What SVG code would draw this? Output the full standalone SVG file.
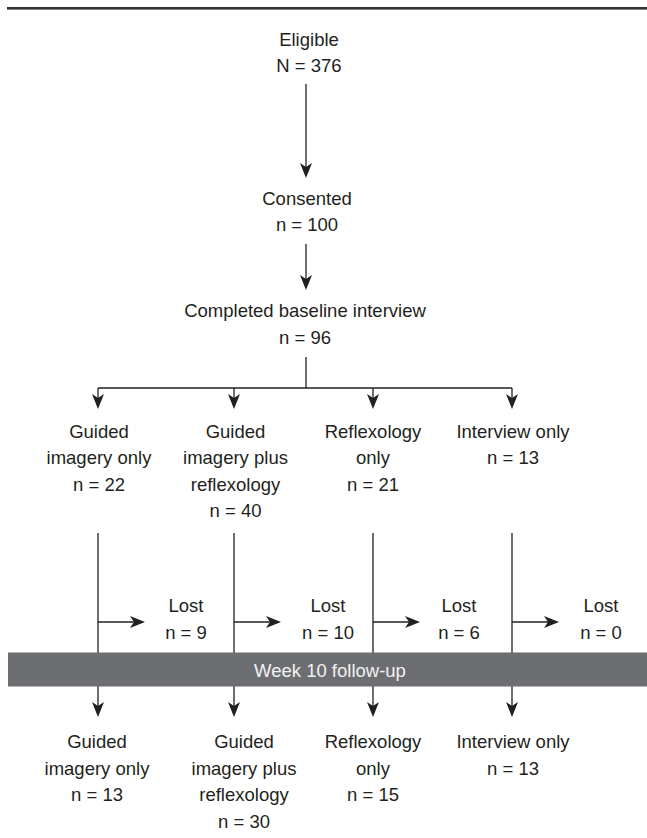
<svg xmlns="http://www.w3.org/2000/svg" width="647" height="838" viewBox="0 0 647 838">
<style>
text{font-family:"Liberation Sans",Arial,sans-serif;font-size:18.5px;fill:#231f20;text-anchor:middle}
.ln{stroke:#231f20;stroke-width:1.3;fill:none}
.bartext{fill:#f2f2f2}
</style>
<defs>
<marker id="ah" viewBox="0 -7 16 14" refX="4" refY="0" markerWidth="16" markerHeight="14" markerUnits="userSpaceOnUse" orient="auto">
<path d="M0,-6 L15,0 L0,6 L4,0 Z" fill="#231f20"/>
</marker>
</defs>
<rect id="toprule" x="7" y="7" width="640" height="2.6" fill="#333"/>
<g id="connectors">
<line class="ln" x1="306" y1="84" x2="306" y2="167" marker-end="url(#ah)"/>
<line class="ln" x1="306" y1="244" x2="306" y2="279" marker-end="url(#ah)"/>
<line class="ln" x1="306" y1="357" x2="306" y2="388"/>
<line class="ln" x1="98" y1="388" x2="512" y2="388"/>
<line class="ln" x1="98" y1="388" x2="98" y2="398" marker-end="url(#ah)"/>
<line class="ln" x1="234" y1="388" x2="234" y2="398" marker-end="url(#ah)"/>
<line class="ln" x1="373" y1="388" x2="373" y2="398" marker-end="url(#ah)"/>
<line class="ln" x1="512" y1="388" x2="512" y2="398" marker-end="url(#ah)"/>
<line class="ln" x1="98" y1="533" x2="98" y2="653"/>
<line class="ln" x1="234" y1="533" x2="234" y2="653"/>
<line class="ln" x1="373" y1="533" x2="373" y2="653"/>
<line class="ln" x1="512" y1="533" x2="512" y2="653"/>
<line class="ln" x1="98" y1="622" x2="134" y2="622" marker-end="url(#ah)"/>
<line class="ln" x1="234" y1="622" x2="270" y2="622" marker-end="url(#ah)"/>
<line class="ln" x1="373" y1="622" x2="409" y2="622" marker-end="url(#ah)"/>
<line class="ln" x1="512" y1="622" x2="548" y2="622" marker-end="url(#ah)"/>
<line class="ln" x1="98" y1="686" x2="98" y2="706" marker-end="url(#ah)"/>
<line class="ln" x1="234" y1="686" x2="234" y2="706" marker-end="url(#ah)"/>
<line class="ln" x1="373" y1="686" x2="373" y2="706" marker-end="url(#ah)"/>
<line class="ln" x1="512" y1="686" x2="512" y2="706" marker-end="url(#ah)"/>
</g>
<g id="eligible"><text x="309" y="45.5">Eligible</text><text x="309" y="72">N = 376</text></g>
<g id="consented"><text x="307" y="204.5">Consented</text><text x="307" y="231">n = 100</text></g>
<g id="baseline"><text x="305" y="317">Completed baseline interview</text><text x="305" y="344">n = 96</text></g>
<g id="gi1"><text x="99" y="437.5">Guided</text><text x="99" y="464">imagery only</text><text x="99" y="490.5">n = 22</text></g>
<g id="gr1"><text x="235.5" y="437.5">Guided</text><text x="235.5" y="464">imagery plus</text><text x="235.5" y="490.5">reflexology</text><text x="235.5" y="517">n = 40</text></g>
<g id="rf1"><text x="373" y="437.5">Reflexology</text><text x="373" y="464">only</text><text x="373" y="490.5">n = 21</text></g>
<g id="io1"><text x="513" y="437.5">Interview only</text><text x="513" y="464">n = 13</text></g>
<g id="lost1"><text x="186" y="612">Lost</text><text x="186" y="639">n = 9</text></g>
<g id="lost2"><text x="328" y="612">Lost</text><text x="328" y="639">n = 10</text></g>
<g id="lost3"><text x="459" y="612">Lost</text><text x="459" y="639">n = 6</text></g>
<g id="lost4"><text x="601" y="612">Lost</text><text x="601" y="639">n = 0</text></g>
<g id="week10"><rect x="8" y="652.5" width="639" height="34" fill="#6d6e71"/><text class="bartext" x="330" y="677">Week 10 follow-up</text></g>
<g id="gi2"><text x="97" y="748">Guided</text><text x="97" y="775">imagery only</text><text x="97" y="801">n = 13</text></g>
<g id="gr2"><text x="244" y="748">Guided</text><text x="244" y="775">imagery plus</text><text x="244" y="801">reflexology</text><text x="244" y="828">n = 30</text></g>
<g id="rf2"><text x="373" y="748">Reflexology</text><text x="373" y="775">only</text><text x="373" y="801">n = 15</text></g>
<g id="io2"><text x="513" y="748">Interview only</text><text x="513" y="775">n = 13</text></g>
</svg>
